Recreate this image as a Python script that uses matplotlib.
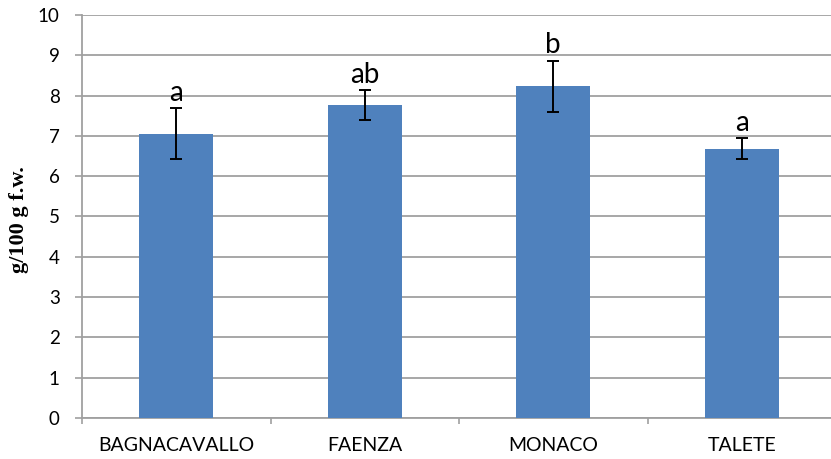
import matplotlib
matplotlib.use("Agg")
import matplotlib.pyplot as plt
import numpy as np

categories = ["BAGNACAVALLO", "FAENZA", "MONACO", "TALETE"]
means = [7.05, 7.77, 8.23, 6.68]
errors = [0.63, 0.37, 0.64, 0.26]
letters = ["a", "ab", "b", "a"]
yticks = [0, 1, 2, 3, 4, 5, 6, 7, 8, 9, 10]

W, H = 831, 459
fig = plt.figure(figsize=(W / 100, H / 100), dpi=100)
left, right, top, bottom = 82, 836, 15, 418
ax = fig.add_axes([left / W, (H - bottom) / H, (right - left) / W, (bottom - top) / H])

grid_col = "#A0A0A0"
bar_col = "#4F81BD"
sans = ["Lato", "DejaVu Sans"]

x = np.arange(len(categories)) + 0.5
ax.bar(x, means, width=0.39, color=bar_col, zorder=3)
ax.errorbar(x, means, yerr=errors, fmt="none", ecolor="black", elinewidth=1.4,
            capsize=4.6, capthick=1.4, zorder=4)

for xi, m, e, lab in zip(x, means, errors, letters):
    ax.text(xi, m + e + 0.18, lab, ha="center", va="baseline", fontsize=20,
            family=sans, color="#000000", zorder=5)

ax.set_xlim(0, len(categories))
ax.set_ylim(0, 10)
ax.set_yticks(yticks)
ax.set_yticklabels([str(t) for t in yticks], family=sans, fontsize=13.5)
ax.yaxis.grid(True, color=grid_col, linewidth=1.3, zorder=0)
ax.set_axisbelow(True)

ax.set_xticks(np.arange(len(categories) + 1))
ax.set_xticklabels([])
ax.set_xticks(x, minor=True)
ax.set_xticklabels(categories, minor=True, family=sans, fontsize=14)
ax.tick_params(axis="x", which="major", length=4.5, width=1.2, color=grid_col, direction="out")
ax.tick_params(axis="x", which="minor", length=0, pad=14)
ax.tick_params(axis="y", length=5, width=1.2, color=grid_col, direction="out", pad=11)

for s in ["top", "right"]:
    ax.spines[s].set_visible(False)
for s in ["left", "bottom"]:
    ax.spines[s].set_color(grid_col)
    ax.spines[s].set_linewidth(1.3)

fig.text(19 / W, 1 - 220 / H, "g/100 g f.w.", rotation=90, ha="center", va="center",
         family="Liberation Serif", fontweight="bold", fontsize=16)

fig.savefig("out.png", dpi=100)
